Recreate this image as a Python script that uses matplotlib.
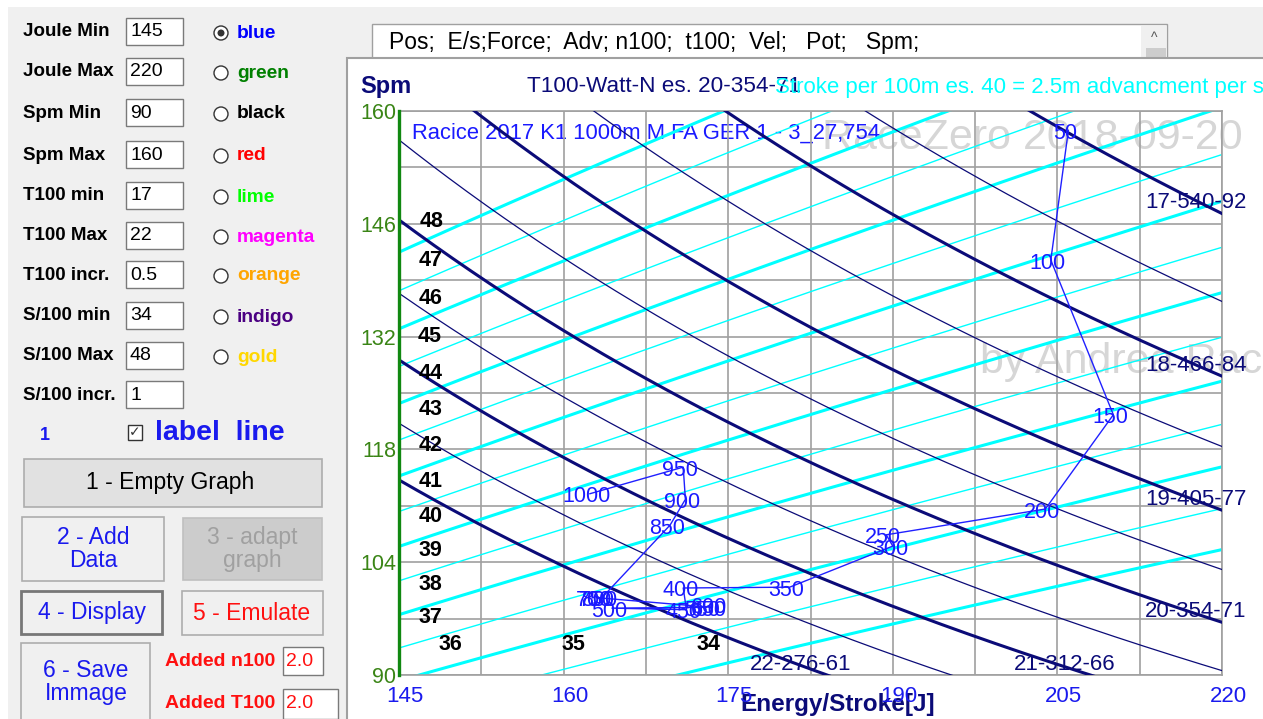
import numpy as np
import matplotlib.pyplot as plt
from matplotlib.patches import Rectangle, Circle
from matplotlib.transforms import ScaledTranslation

plt.rcParams['font.family'] = ['Liberation Sans', 'DejaVu Sans']

# axis ranges and ticks
joule_range = [145, 220]
spm_range = [90, 160]
x_ticks = [145, 160, 175, 190, 205, 220]
y_ticks = [90, 104, 118, 132, 146, 160]

# T100 iso-power curves (time per 100m [s], power [W], N)
t100_main = [17, 18, 19, 20, 21, 22]
watt_main = [540, 466, 405, 354, 312, 276]
n_main = [92, 84, 77, 71, 66, 61]
t100_half = [17.5, 18.5, 19.5, 20.5, 21.5]
watt_half = [500, 434, 378, 332, 293]

# strokes per 100m
strokes_100 = [34, 35, 36, 37, 38, 39, 40, 41, 42, 43, 44, 45, 46, 47, 48]

# race: distance [m], energy per stroke [J], stroke rate [spm]
race_dist = [50, 100, 150, 200, 250, 300, 350, 400, 450, 500,
             550, 600, 650, 700, 750, 800, 850, 900, 950, 1000]
race_energy = [206.0, 204.4, 210.1, 203.9, 189.4, 190.0, 180.6, 170.9, 171.2, 164.4,
               172.9, 173.5, 173.5, 163.0, 163.3, 163.5, 169.7, 171.1, 170.9, 162.4]
race_spm = [157.6, 141.5, 122.3, 110.6, 107.4, 106.0, 100.9, 100.8, 98.1, 98.3,
            98.4, 98.8, 98.4, 99.6, 99.6, 99.6, 108.6, 111.8, 115.8, 112.5]

# left panel
param_labels = ["Joule Min", "Joule Max", "Spm Min", "Spm Max", "T100 min", "T100 Max",
                "T100 incr.", "S/100 min", "S/100 Max", "S/100 incr."]
param_values = ["145", "220", "90", "160", "17", "22", "0.5", "34", "48", "1"]
color_names = ["blue", "green", "black", "red", "lime", "magenta", "orange", "indigo", "gold"]
row_y = [32, 72, 113, 155, 196, 236, 275, 316, 356, 395]

NAVY = '#0b0b78'
BLUE = '#1a1aee'
RED = '#ff1010'
W, H = 1263, 719

fig = plt.figure(figsize=(W / 100, H / 100), dpi=100, facecolor='white')

# background / GUI layer in pixel coords
bg = fig.add_axes([0, 0, 1, 1], zorder=0)
bg.set_xlim(0, W)
bg.set_ylim(H, 0)
bg.axis('off')


def rect(x0, y0, x1, y1, fc, ec='none', lw=1.0):
    bg.add_patch(Rectangle((x0, y0), x1 - x0, y1 - y0, facecolor=fc, edgecolor=ec, lw=lw))


rect(8, 7, W, H, '#f0f0f0')

for lab, val, y in zip(param_labels, param_values, row_y):
    bg.text(23, y, lab, fontsize=13.5, fontweight='bold', va='center', ha='left', color='black')
    rect(126, y - 14, 183, y + 13, 'white', '#7a7a7a', 1.0)
    bg.text(130, y, val, fontsize=14, va='center', ha='left', color='black')

for i, (cname, y) in enumerate(zip(color_names, row_y)):
    bg.add_patch(Circle((221, y + 1), 7, facecolor='white', edgecolor='#333333', lw=1.0))
    if i == 0:
        bg.add_patch(Circle((221, y + 1), 3.5, facecolor='#333333', edgecolor='none'))
    bg.text(237, y + 1, cname, fontsize=13.8, fontweight='bold', va='center', ha='left', color=cname)

bg.text(45, 436, "1", fontsize=13, fontweight='bold', color=BLUE, va='center', ha='center')
rect(128, 425, 142, 440, 'white', '#333333', 1.0)
bg.text(135, 432, "\u2713", fontsize=10, family='DejaVu Sans', color='#333333', va='center', ha='center')
bg.text(155, 433, "label  line", fontsize=20.5, fontweight='bold', color=BLUE, va='center', ha='left')

rect(24, 459, 322, 507, '#e1e1e1', '#adadad', 1.2)
bg.text(170, 483, "1 - Empty Graph", fontsize=16.5, va='center', ha='center', color='black')
rect(22, 517, 164, 581, '#f0f0f0', '#adadad', 1.2)
bg.text(93, 549, "2 - Add\nData", fontsize=16.5, va='center', ha='center', color=BLUE,
        linespacing=1.05)
rect(183, 518, 322, 580, '#cccccc', '#bfbfbf', 1.2)
bg.text(252, 549, "3 - adapt\ngraph", fontsize=16.5, va='center', ha='center', color='#a0a0a0',
        linespacing=1.05)
rect(21, 591, 162, 634, '#f0f0f0', '#777777', 2.0)
bg.text(92, 613, "4 - Display", fontsize=16.5, va='center', ha='center', color=BLUE)
rect(182, 591, 323, 635, '#f0f0f0', '#adadad', 1.2)
bg.text(252, 613, "5 - Emulate", fontsize=16.5, va='center', ha='center', color=RED)
rect(21, 643, 150, 730, '#f0f0f0', '#adadad', 1.2)
bg.text(86, 682, "6 - Save\nImmage", fontsize=16.5, va='center', ha='center', color=BLUE,
        linespacing=1.05)
bg.text(165, 661, "Added n100", fontsize=14, fontweight='bold', va='center', ha='left', color=RED)
rect(283, 647, 323, 675, 'white', '#7a7a7a', 1.0)
bg.text(286, 661, "2.0", fontsize=14, va='center', ha='left', color=RED)
bg.text(165, 704, "Added T100", fontsize=14, fontweight='bold', va='center', ha='left', color=RED)
rect(283, 689, 338, 719, 'white', '#7a7a7a', 1.0)
bg.text(286, 704, "2.0", fontsize=14, va='center', ha='left', color=RED)

# top text box
rect(372, 24, 1167, 58, 'white', '#a0a0a0', 1.0)
bg.text(389, 42, "Pos;  E/s;Force;  Adv; n100;  t100;  Vel;   Pot;   Spm;", fontsize=16.5,
        va='center', ha='left', color='black')
rect(1141, 26, 1166, 57, '#f0f0f0')
rect(1146, 48, 1166, 57, '#cdcdcd')
bg.text(1154, 38, "^", fontsize=10, va='center', ha='center', color='#555555')

# chart panel
rect(347, 58, W + 5, H + 5, 'white', '#a0a0a0', 1.5)
bg.text(360, 87, "Spm", fontsize=17, fontweight='bold', color=NAVY, va='center', ha='left')
bg.text(527, 87, "T100-Watt-N es. 20-354-71", fontsize=16.2, color=NAVY, va='center', ha='left')
bg.text(775, 87, "Stroke per 100m es. 40 = 2.5m advancment per stroke", fontsize=16,
        color='#00ffff', va='center', ha='left')
bg.text(1032, 138, "RaceZero 2018-09-20", fontsize=31, color='#d6d6d6', va='center', ha='center')
bg.text(980, 362, "by Andrea Rac", fontsize=31, color='#d6d6d6', va='center', ha='left')
bg.text(838, 704, "Energy/Stroke[J]", fontsize=17.5, fontweight='bold', color=NAVY,
        va='center', ha='center')

# main chart
ax = fig.add_axes([399 / W, (H - 675) / H, 823 / W, 564 / H], zorder=1)
ax.patch.set_alpha(0)
ax.set_xlim(joule_range)
ax.set_ylim(spm_range)
ax.set_xticks(x_ticks)
ax.set_xticklabels([str(v) for v in x_ticks])
ax.set_xticks(np.linspace(joule_range[0], joule_range[1], 11), minor=True)
ax.set_yticks(y_ticks)
ax.set_yticklabels([str(v) for v in y_ticks])
ax.set_yticks(np.linspace(spm_range[0], spm_range[1], 11), minor=True)
ax.grid(True, which='both', color='#a0a0a0', lw=1.2)
ax.tick_params(which='both', length=0)
ax.tick_params(axis='x', labelsize=16, labelcolor=BLUE, pad=8)
ax.tick_params(axis='y', labelsize=15.5, labelcolor='#3a8516', pad=2)
shift = ScaledTranslation(6 / 100, 0, fig.dpi_scale_trans)
for lbl in ax.get_xticklabels():
    lbl.set_transform(lbl.get_transform() + shift)
for s in ['top', 'right', 'bottom']:
    ax.spines[s].set_color('#a0a0a0')
    ax.spines[s].set_linewidth(1.2)
ax.spines['left'].set_color('#118811')
ax.spines['left'].set_linewidth(2.4)
ax.spines['left'].set_zorder(5)

# iso-power curves: Watt = E * Spm / 60
e_grid = np.linspace(joule_range[0], joule_range[1], 400)
for t, w in zip(t100_half, watt_half):
    ax.plot(e_grid, 60 * w / e_grid, color=NAVY, lw=0.9, zorder=3)
for t, w, n in zip(t100_main, watt_main, n_main):
    ax.plot(e_grid, 60 * w / e_grid, color=NAVY, lw=2.2, zorder=3)
    e_end = min(joule_range[1], 60 * w / spm_range[0])
    ax.annotate(f"{t}-{w}-{n}", (e_end, 60 * w / e_end), xytext=(-26, 11),
                textcoords='offset pixels', ha='center', va='center', fontsize=16,
                color=NAVY, zorder=6, annotation_clip=False)

# stroke-count lines: Spm = 60 n / T100, E = W(T100) * T100 / n (power-law through the table)
t_all = np.array(t100_main + t100_half)
w_all = np.array(watt_main + watt_half)
slope, icpt = np.polyfit(np.log(t_all), np.log(w_all), 1)
t_grid = np.linspace(10, 40, 3000)
w_grid = np.exp(icpt + slope * np.log(t_grid))
for n in strokes_100:
    spm = 60 * n / t_grid
    e = w_grid * t_grid / n
    ax.plot(e, spm, color='#00ffff', lw=2.2 if n % 2 == 0 else 1.0, zorder=2)
    inside = (e >= joule_range[0]) & (e <= joule_range[1]) & (spm >= spm_range[0]) & (spm <= spm_range[1])
    i = np.argmin(np.where(inside, e, np.inf))
    ax.annotate(str(n), (e[i], spm[i]), xytext=(31, 30), textcoords='offset pixels',
                ha='center', va='center', fontsize=15.5, fontweight='bold', color='black', zorder=6)

# race data
ax.plot(race_energy, race_spm, color='#2020ff', lw=1.0, zorder=4)
for d, e, s in zip(race_dist, race_energy, race_spm):
    ax.annotate(str(d), (e, s), xytext=(-3, -3), textcoords='offset pixels', ha='center',
                va='center', fontsize=15.5, color='#1a1aff', zorder=7)
bg.text(412, 133, "Racice 2017 K1 1000m M FA GER 1 - 3_27,754", fontsize=15.8, color='#1a1aff',
        va='center', ha='left', zorder=10)

fig.savefig('out.png', dpi=100, facecolor=fig.get_facecolor())
